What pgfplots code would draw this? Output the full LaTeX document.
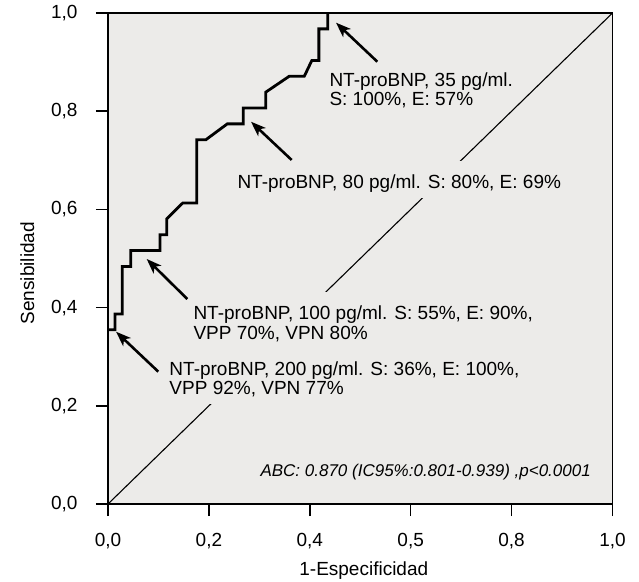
\documentclass[border=0pt]{standalone}
\usepackage{fontspec}
\setmainfont{Liberation Sans}
\usepackage{pgfplots}
\pgfplotsset{compat=1.18}
\usetikzlibrary{arrows.meta}
\definecolor{panel}{RGB}{236,235,233}

\tikzset{
  notefill/.style={fill=panel, text opacity=0, inner xsep=1pt, inner ysep=0pt,
    text height=27pt, text depth=10pt, anchor=base west,
    font=\fontsize{19}{20}\selectfont},
  notetext/.style={inner sep=0pt, anchor=base west,
    font=\fontsize{19}{20}\selectfont},
  pointer/.style={line width=2.6pt, -{Stealth[length=15pt,width=11pt,inset=4pt]}},
}

\begin{document}
\begin{tikzpicture}
\begin{axis}[
  scale only axis,
  width=504.5pt, height=491pt,
  xmin=0, xmax=1, ymin=0, ymax=1,
  axis background/.style={fill=panel},
  axis line style={line width=1.4pt},
  tick align=outside,
  major tick length=12pt,
  tick style={line width=1.4pt, black},
  xtick pos=bottom, ytick pos=left,
  xtick={0,0.2,0.4,0.6,0.8,1},
  xticklabels={{0,0},{0,2},{0,4},{0,5},{0,8},{1,0}},
  ytick={0,0.2,0.4,0.6,0.8,1},
  yticklabels={{0,0},{0,2},{0,4},{0,6},{0,8},{1,0}},
  tick label style={font=\fontsize{19}{22}\selectfont},
  xticklabel style={yshift=-14pt},
  yticklabel style={xshift=-15pt},
  label style={font=\fontsize{19}{22}\selectfont},
  xlabel={1-Especificidad},
  ylabel={Sensibilidad},
  xlabel style={at={(axis description cs:0.507,-0.135)}, anchor=center},
  ylabel style={at={(axis description cs:-0.160,0.47)}, anchor=center},
  clip=false,
]
% reference diagonal
\addplot[black, line width=1.1pt] coordinates {(0,0) (1,1)};

% ROC curve of NT-proBNP
\addplot[black, line width=2.8pt, line join=miter] coordinates {
  (0,0.3548) (0.0139,0.3548) (0.0139,0.3871) (0.0283,0.3871)
  (0.0283,0.4839) (0.045,0.4839) (0.045,0.5161) (0.103,0.5161)
  (0.103,0.5484) (0.1164,0.5484) (0.1164,0.5806) (0.148,0.6129)
  (0.1758,0.6129) (0.1758,0.7419) (0.194,0.7419) (0.2365,0.7742)
  (0.268,0.7742) (0.268,0.8065) (0.3126,0.8065) (0.3126,0.8387)
  (0.359,0.8710) (0.389,0.8710) (0.404,0.9032) (0.418,0.9032)
  (0.418,0.9677) (0.4355,0.9677) (0.4355,1)
};

% backgrounds of the cut-off notes
\node[notefill] at (axis cs:0.4387,0.8513) {NT-proBNP, 35 pg/ml.};
\node[notefill] at (axis cs:0.4387,0.8106) {S: 100\%, E: 57\%};
\node[notefill] at (axis cs:0.2563,0.6430) {NT-proBNP, 80 pg/ml. S: 80\%, E: 69\%};
\node[notefill] at (axis cs:0.1691,0.3762) {NT-proBNP, 100 pg/ml. S: 55\%, E: 90\%,};
\node[notefill] at (axis cs:0.1691,0.3360) {VPP 70\%, VPN 80\%};
\node[notefill] at (axis cs:0.1215,0.2627) {NT-proBNP, 200 pg/ml. S: 36\%, E: 100\%,};
\node[notefill] at (axis cs:0.1215,0.2234) {VPP 92\%, VPN 77\%};

% note texts
\node[notetext] at (axis cs:0.4387,0.8513) {NT-proBNP, 35 pg/ml.};
\node[notetext] at (axis cs:0.4387,0.8106) {S: 100\%, E: 57\%};
\node[notetext] at (axis cs:0.2563,0.6430) {NT-proBNP, 80 pg/ml. S: 80\%, E: 69\%};
\node[notetext] at (axis cs:0.1691,0.3762) {NT-proBNP, 100 pg/ml. S: 55\%, E: 90\%,};
\node[notetext] at (axis cs:0.1691,0.3360) {VPP 70\%, VPN 80\%};
\node[notetext] at (axis cs:0.1215,0.2627) {NT-proBNP, 200 pg/ml. S: 36\%, E: 100\%,};
\node[notetext] at (axis cs:0.1215,0.2234) {VPP 92\%, VPN 77\%};

\node[inner sep=0pt, anchor=base east, font=\fontsize{17}{20}\selectfont\itshape]
  at (axis cs:0.9574,0.0556) {ABC: 0.870 (IC95\%:0.801-0.939) ,p<0.0001};

% cut-off pointers
\draw[pointer] (axis cs:0.5338,0.9008) -- (axis cs:0.4519,0.9803);
\draw[pointer] (axis cs:0.3641,0.7006) -- (axis cs:0.2834,0.7786);
\draw[pointer] (axis cs:0.1572,0.4175) -- (axis cs:0.0767,0.4990);
\draw[pointer] (axis cs:0.0997,0.2695) -- (axis cs:0.0159,0.3509);

\coordinate (bl) at (rel axis cs:0,0);
\coordinate (tr) at (rel axis cs:1,1);
\end{axis}
\pgfresetboundingbox
\path[use as bounding box] ([shift={(-108pt,-77pt)}]bl) rectangle ([shift={(26.5pt,13pt)}]tr);
\end{tikzpicture}
\end{document}
